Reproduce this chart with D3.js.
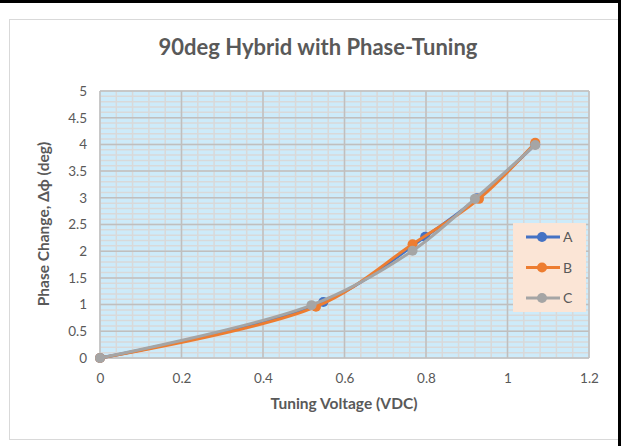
<!DOCTYPE html>
<html><head><meta charset="utf-8">
<script src="https://cdn.jsdelivr.net/npm/d3@7"></script>
<style>body{margin:0;background:#fff;} svg{display:block;font-family:Lato, "Open Sans", sans-serif;}</style>
</head><body>
<svg id="chart" width="621" height="446"></svg>
<script>
const title = "90deg Hybrid with Phase-Tuning";
const xTitle = "Tuning Voltage (VDC)";
const yTitle = "Phase Change, \u0394\u03d5 (deg)";
const seriesNames = ["A", "B", "C"];
const seriesColors = ["#4472C4", "#ED7D31", "#A5A5A5"];
const xA = [0, 0.548, 0.798, 0.925, 1.068];
const yA = [0, 1.05, 2.27, 2.99, 4.00];
const xB = [0, 0.530, 0.767, 0.930, 1.068];
const yB = [0, 0.96, 2.13, 2.98, 4.03];
const xC = [0, 0.519, 0.767, 0.920, 1.068];
const yC = [0, 0.99, 2.01, 2.98, 3.99];
const xTicks = [0, 0.2, 0.4, 0.6, 0.8, 1, 1.2];
const yTicks = [0, 0.5, 1, 1.5, 2, 2.5, 3, 3.5, 4, 4.5, 5];

const svg = d3.select("#chart");
const L = 100, R = 589, T = 91, B = 358;
const x = d3.scaleLinear().domain([0, 1.2]).range([L, R]);
const y = d3.scaleLinear().domain([0, 5]).range([B, T]);

// outer frame
svg.append("rect").attr("x", 9.5).attr("y", 19.5).attr("width", 620).attr("height", 420)
  .attr("fill", "#fff").attr("stroke", "#D9D9D9").attr("stroke-width", 1);
svg.append("rect").attr("x", 0).attr("y", 0).attr("width", 621).attr("height", 3).attr("fill", "#000");
svg.append("rect").attr("x", 618).attr("y", 0).attr("width", 3).attr("height", 446).attr("fill", "#000");

// plot background
svg.append("rect").attr("x", L).attr("y", T).attr("width", R - L).attr("height", B - T).attr("fill", "#CDEBFA");

const g = svg.append("g");
// minor grid
const xMinor = d3.range(0, 1.2001, 0.04);
const yMinor = d3.range(0, 5.0001, 0.1);
g.selectAll("line.ymin").data(yMinor).join("line")
  .attr("x1", L).attr("x2", R).attr("y1", d => y(d)).attr("y2", d => y(d))
  .attr("stroke", "#D9D9D9").attr("stroke-width", 1.5);
g.selectAll("line.xmin").data(xMinor).join("line")
  .attr("y1", T).attr("y2", B).attr("x1", d => x(d)).attr("x2", d => x(d))
  .attr("stroke", "#D9D9D9").attr("stroke-width", 1.5);
// major grid
g.selectAll("line.ymaj").data(yTicks).join("line")
  .attr("x1", L).attr("x2", R).attr("y1", d => y(d)).attr("y2", d => y(d))
  .attr("stroke", "#BFBFBF").attr("stroke-width", 1.5);
g.selectAll("line.xmaj").data(xTicks).join("line")
  .attr("y1", T).attr("y2", B).attr("x1", d => x(d)).attr("x2", d => x(d))
  .attr("stroke", "#BFBFBF").attr("stroke-width", 1.5);

// axes labels via d3 axes
const xAxis = svg.append("g").attr("transform", `translate(0,${B})`)
  .call(d3.axisBottom(x).tickValues(xTicks).tickSize(0).tickPadding(15).tickFormat(d => d3.format("")(d)));
const yAxis = svg.append("g").attr("transform", `translate(${L},0)`)
  .call(d3.axisLeft(y).tickValues(yTicks).tickSize(0).tickPadding(13).tickFormat(d => String(d)));
[xAxis, yAxis].forEach(a => {
  a.select(".domain").remove();
  a.selectAll("text").attr("fill", "#595959").attr("font-size", 13.5).attr("font-family", "Lato, sans-serif");
});

// series
const series = [
  {name: seriesNames[0], color: seriesColors[0], pts: xA.map((v, i) => [v, yA[i]])},
  {name: seriesNames[1], color: seriesColors[1], pts: xB.map((v, i) => [v, yB[i]])},
  {name: seriesNames[2], color: seriesColors[2], pts: xC.map((v, i) => [v, yC[i]])}
];
const line = d3.line().x(d => x(d[0])).y(d => y(d[1])).curve(d3.curveCatmullRom.alpha(0.5));
series.forEach(s => {
  svg.append("path").attr("d", line(s.pts)).attr("fill", "none")
    .attr("stroke", s.color).attr("stroke-width", 3).attr("stroke-linejoin", "round");
  svg.selectAll(null).data(s.pts).join("circle")
    .attr("cx", d => x(d[0])).attr("cy", d => y(d[1])).attr("r", 5).attr("fill", s.color);
});

// title
svg.append("text").attr("x", 318).attr("y", 55).attr("text-anchor", "middle")
  .attr("font-size", 22).attr("font-weight", "bold").attr("fill", "#595959").text(title);
svg.append("text").attr("x", 344).attr("y", 409).attr("text-anchor", "middle")
  .attr("font-size", 15.5).attr("font-weight", "bold").attr("fill", "#595959").text(xTitle);
svg.append("text").attr("transform", "translate(49,224) rotate(-90)").attr("text-anchor", "middle")
  .attr("font-size", 15.5).attr("font-weight", "bold").attr("fill", "#595959").text(yTitle);

// legend
const lg = svg.append("g");
lg.append("rect").attr("x", 513).attr("y", 223).attr("width", 73).attr("height", 89).attr("fill", "#FBE5D6");
series.forEach((s, i) => {
  const yy = 237 + i * 30.5;
  lg.append("line").attr("x1", 526).attr("x2", 560).attr("y1", yy).attr("y2", yy)
    .attr("stroke", s.color).attr("stroke-width", 3);
  lg.append("circle").attr("cx", 542).attr("cy", yy).attr("r", 5).attr("fill", s.color);
  lg.append("text").attr("x", 563).attr("y", yy + 5).attr("font-size", 14).attr("fill", "#595959").text(s.name);
});
</script>
</body></html>
